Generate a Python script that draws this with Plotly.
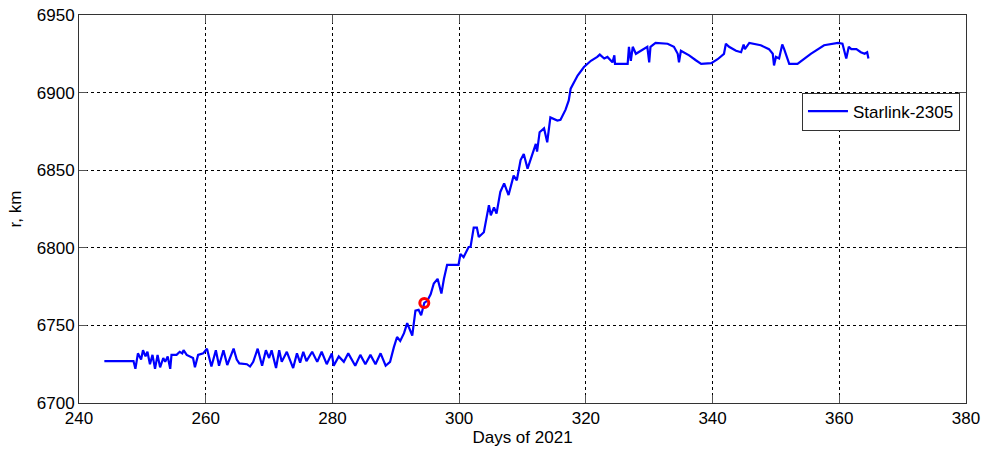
import plotly.graph_objects as go

# Orbital radius of Starlink-2305 over the last months of 2021
days = [
    244.0, 248.6, 248.9, 249.3, 249.8, 250.1, 250.5, 250.8, 251.2, 251.6,
    252.0, 252.4, 252.8, 253.3, 253.6, 254.0, 254.4, 254.6, 255.4, 255.9,
    256.3, 256.5, 257.0, 257.5, 258.0, 258.3, 258.8, 259.6, 260.2, 260.9,
    261.6, 262.1, 262.8, 263.4, 264.4, 264.9, 265.3, 266.5, 267.0, 267.5,
    268.2, 268.9, 269.5, 270.0, 270.4, 271.1, 271.6, 272.0, 272.8, 273.8,
    274.4, 274.9, 275.4, 275.9, 276.8, 277.6, 278.3, 279.1, 279.9, 280.2,
    281.0, 281.8, 282.5, 283.6, 284.4, 285.2, 286.0, 286.8, 287.6, 288.4,
    289.1, 289.7, 290.2, 290.7, 291.3, 291.8, 292.6, 293.1, 293.6, 294.0,
    294.5, 295.0, 295.5, 296.0, 296.6, 297.2, 297.6, 298.1, 299.9, 300.2,
    300.7, 301.5, 301.8, 302.3, 302.8, 303.1, 303.9, 304.7, 305.0, 305.5,
    305.9, 306.5, 307.1, 307.8, 308.6, 309.1, 309.7, 310.2, 310.8, 312.1,
    312.3, 312.7, 313.4, 313.9, 314.4, 315.5, 316.0, 316.8, 317.3, 317.6,
    318.7, 319.7, 320.8, 321.8, 322.2, 322.9, 323.4, 324.2, 324.5, 324.6,
    326.6, 326.8, 327.1, 327.4, 327.9, 329.7, 330.0, 330.2, 331.0, 332.9,
    333.9, 334.5, 334.7, 335.0, 336.3, 337.3, 338.2, 339.8, 340.8, 341.8,
    342.1, 342.6, 343.7, 344.5, 344.9, 345.1, 345.8, 347.6, 348.9, 349.5,
    349.7, 350.0, 350.5, 351.0, 351.3, 352.1, 353.4, 355.5, 357.6, 359.8,
    360.5, 361.1, 361.5, 361.9, 362.7, 363.4, 364.0, 364.4, 364.6,
]
radius_km = [
    6727.0, 6727.0, 6722.0, 6732.0, 6728.0, 6734.0, 6730.0, 6733.0, 6725.0, 6731.0,
    6722.0, 6731.0, 6723.0, 6729.0, 6726.5, 6730.0, 6722.0, 6731.0, 6731.0, 6733.0,
    6732.0, 6734.0, 6731.0, 6730.0, 6729.0, 6723.0, 6731.0, 6732.0, 6735.0, 6723.5,
    6734.0, 6724.0, 6734.0, 6724.5, 6735.0, 6728.0, 6725.5, 6725.0, 6723.5, 6726.5,
    6735.0, 6724.0, 6734.0, 6729.0, 6734.0, 6722.5, 6734.0, 6726.5, 6733.0, 6722.5,
    6732.0, 6726.0, 6733.0, 6727.0, 6733.0, 6726.5, 6733.0, 6725.0, 6732.0, 6724.0,
    6730.0, 6726.5, 6732.0, 6724.0, 6731.0, 6725.0, 6731.0, 6725.0, 6732.0, 6724.0,
    6726.5, 6736.0, 6742.5, 6740.0, 6745.0, 6751.5, 6743.5, 6759.5, 6760.0, 6756.5,
    6764.5, 6766.0, 6770.0, 6777.0, 6780.0, 6770.5, 6780.0, 6789.0, 6789.0, 6796.0,
    6794.0, 6800.5, 6800.5, 6813.0, 6813.0, 6807.0, 6810.0, 6827.5, 6821.0, 6826.0,
    6822.0, 6836.0, 6841.5, 6834.0, 6846.5, 6843.5, 6856.5, 6860.5, 6851.0, 6867.0,
    6862.0, 6874.5, 6877.0, 6868.0, 6884.0, 6882.0, 6882.5, 6889.0, 6895.0, 6902.5,
    6911.0, 6916.5, 6920.5, 6923.0, 6924.5, 6922.0, 6923.0, 6919.5, 6924.0, 6918.5,
    6918.5, 6929.5, 6920.5, 6929.5, 6925.0, 6929.5, 6919.5, 6929.5, 6932.0, 6931.5,
    6929.5, 6925.0, 6919.5, 6927.0, 6924.0, 6921.0, 6918.5, 6919.0, 6921.5, 6925.0,
    6931.5, 6929.5, 6927.0, 6926.0, 6931.0, 6928.0, 6932.0, 6930.5, 6928.0, 6925.0,
    6917.5, 6923.0, 6922.0, 6931.0, 6928.0, 6918.5, 6918.5, 6925.0, 6930.5, 6932.0,
    6931.5, 6922.0, 6929.5, 6928.0, 6928.0, 6926.0, 6925.0, 6926.0, 6922.0,
]

# Highlighted epoch
event_day = [294.5]
event_radius = [6764.5]

x_ticks = [240, 260, 280, 300, 320, 340, 360, 380]
y_ticks = [6700, 6750, 6800, 6850, 6900, 6950]

font_family = "Liberation Sans, Arial, sans-serif"
font_size = 17

fig = go.Figure()
fig.add_trace(go.Scatter(
    x=days, y=radius_km, mode="lines", name="Starlink-2305",
    line=dict(color="#0000ff", width=2.2),
))
fig.add_trace(go.Scatter(
    x=event_day, y=event_radius, mode="markers", showlegend=False,
    marker=dict(symbol="circle-open", size=9, color="#ff0000", line=dict(width=3)),
))

axis_common = dict(
    showline=True, linecolor="#333333", linewidth=1, mirror="ticks",
    ticks="inside", ticklen=8, tickcolor="#555555", tickwidth=1,
    showgrid=True, gridcolor="#000000", gridwidth=1, griddash="3px,3px",
    zeroline=False, automargin=False,
    tickfont=dict(family=font_family, size=font_size, color="#000000"),
    title_font=dict(family=font_family, size=font_size, color="#000000"),
)

fig.update_xaxes(
    range=[240, 380], tickvals=x_ticks, title_text="Days of 2021",
    title_standoff=3, **axis_common,
)
fig.update_yaxes(
    range=[6700, 6950], tickvals=y_ticks, title_text="r, km",
    title_standoff=10, **axis_common,
)

fig.update_layout(
    width=983, height=450,
    margin=dict(l=79, r=17, t=15, b=47),
    paper_bgcolor="#ffffff", plot_bgcolor="#ffffff",
    font=dict(family=font_family, size=font_size, color="#000000"),
    legend=dict(
        x=0.9932, y=0.80, xanchor="right", yanchor="top",
        bgcolor="#ffffff", bordercolor="#333333", borderwidth=1,
        font=dict(family=font_family, size=font_size, color="#000000"),
        itemwidth=40,
    ),
)

fig.write_html("out.html")
